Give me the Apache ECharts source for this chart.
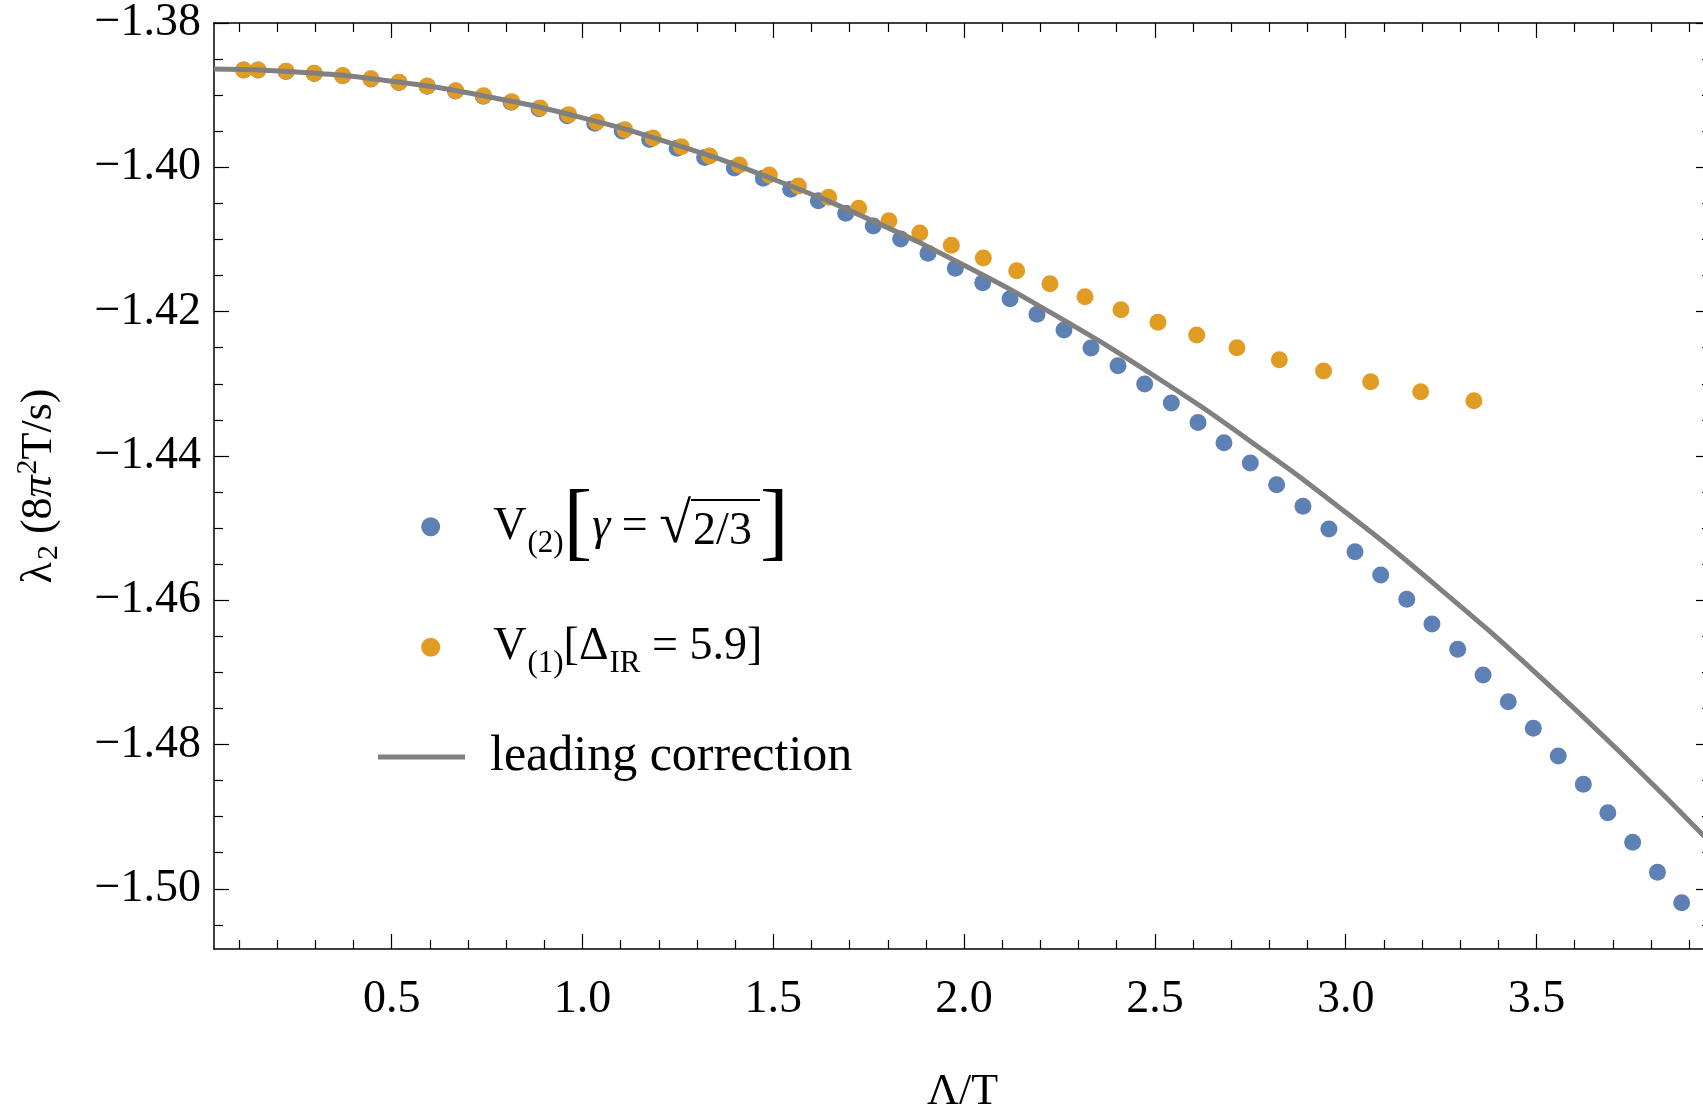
<!DOCTYPE html>
<html>
<head>
<meta charset="utf-8">
<script src="https://cdn.jsdelivr.net/npm/echarts@6/dist/echarts.min.js"></script>
<style>
html, body { margin: 0; padding: 0; background: #fff; }
#chart1 { width: 1703px; height: 1110px; }
</style>
</head>
<body>
<div id="chart1"></div>
<script>
// data
var blueX = [0.112, 0.1496, 0.223, 0.297, 0.3715, 0.4457, 0.519, 0.593, 0.667, 0.740, 0.813, 0.886, 0.960, 1.032, 1.104, 1.176, 1.248, 1.320, 1.398,
    1.4738, 1.5455, 1.618, 1.6897, 1.762, 1.8338, 1.9054, 1.977, 2.0487, 2.1203, 2.191, 2.2618, 2.3325, 2.4033, 2.4733, 2.543, 2.613, 2.681, 2.750,
    2.819, 2.888, 2.956, 3.0244, 3.0917, 3.160, 3.226, 3.2935, 3.360, 3.426, 3.4917, 3.557, 3.6227, 3.687, 3.752, 3.817, 3.8805];
var blueY = [-1.38651, -1.38652, -1.38671, -1.38699, -1.38732, -1.38775, -1.38826, -1.38878, -1.38944, -1.39015, -1.39098, -1.39190, -1.39285, -1.39388, -1.39498, -1.39613, -1.39735, -1.39865, -1.40010,
    -1.40153, -1.40305, -1.40463, -1.40638, -1.40814, -1.40994, -1.41192, -1.41400, -1.41599, -1.41821, -1.42038, -1.42255, -1.42505, -1.42750, -1.43003, -1.43267, -1.43537, -1.43817, -1.44098,
    -1.44399, -1.44699, -1.45013, -1.45328, -1.45651, -1.45988, -1.46330, -1.46681, -1.47037, -1.47407, -1.47776, -1.48159, -1.48552, -1.48945, -1.49356, -1.49771, -1.50193];

var orangeX = [0.112, 0.1496, 0.223, 0.297, 0.3715, 0.4457, 0.519, 0.593, 0.668, 0.741, 0.815, 0.889, 0.964, 1.037, 1.111, 1.185, 1.259, 1.333, 1.411,
    1.4896, 1.5656, 1.645, 1.7238, 1.803, 1.884, 1.9665, 2.0503, 2.1378, 2.225, 2.3168, 2.411, 2.508, 2.6095, 2.715, 2.826, 2.942, 3.0654, 3.1965, 3.336];
var orangeY = [-1.38651, -1.38651, -1.38670, -1.38698, -1.38730, -1.38772, -1.38822, -1.38873, -1.38938, -1.39007, -1.39090, -1.39178, -1.39270, -1.39372, -1.39478, -1.39594, -1.39714, -1.39843, -1.39968,
    -1.40107, -1.40259, -1.40416, -1.40569, -1.40740, -1.40911, -1.41081, -1.41257, -1.41433, -1.41613, -1.41793, -1.41974, -1.42148, -1.42324, -1.42500, -1.42667, -1.42823, -1.42971, -1.43110, -1.43235];

var lineX = [0.034, 0.25, 0.5, 0.75, 1.0, 1.25, 1.5, 1.75, 2.0, 2.25, 2.5, 2.75, 3.0, 3.25, 3.5, 3.75, 3.96];
var lineY = [-1.38638, -1.38679, -1.38806, -1.39018, -1.39315, -1.39697, -1.40165, -1.40718, -1.41358, -1.42084, -1.42896, -1.43796, -1.44782, -1.45856, -1.47017, -1.48266, -1.49384];

var xMajor = [0.5, 1.0, 1.5, 2.0, 2.5, 3.0, 3.5];
var xMinor = [0.1, 0.2, 0.3, 0.4, 0.6, 0.7, 0.8, 0.9, 1.1, 1.2, 1.3, 1.4, 1.6, 1.7, 1.8, 1.9, 2.1, 2.2, 2.3, 2.4,
    2.6, 2.7, 2.8, 2.9, 3.1, 3.2, 3.3, 3.4, 3.6, 3.7, 3.8, 3.9];
var yMajor = [-1.38, -1.40, -1.42, -1.44, -1.46, -1.48, -1.50];
var yMinor = [-1.385, -1.39, -1.395, -1.405, -1.41, -1.415, -1.425, -1.43, -1.435, -1.445, -1.45, -1.455,
    -1.465, -1.47, -1.475, -1.485, -1.49, -1.495, -1.505];

var X_MIN = 0.0343, X_MAX = 3.9573;
var Y_MIN = -1.50834, Y_MAX = -1.38;

var FONT = '"Liberation Serif", "DejaVu Serif", serif';
var BLUE = '#5E81B5', ORANGE = '#E19C24', GRAY = '#808080';

function zip(xs, ys) {
    return xs.map(function (x, i) { return [x, ys[i]]; });
}

// thin bar used as overline of the radical
var barCanvas = document.createElement('canvas');
barCanvas.width = 8;
barCanvas.height = 100;
var bctx = barCanvas.getContext('2d');
bctx.fillStyle = '#000';
bctx.fillRect(0, 0, 8, 4);

var chartDom = document.getElementById('chart1');
var myChart = echarts.init(chartDom);
var option;

var lineSt = {color: '#000', width: 1.5};
var tickSt = {color: '#000', width: 1.2};

function xAx(pos, major, withLabel) {
    return {
        type: 'value', position: pos, min: X_MIN, max: X_MAX,
        axisLine: {show: major, onZero: false, lineStyle: lineSt},
        axisTick: {show: true, inside: true, length: major ? 15 : 9, lineStyle: tickSt,
            customValues: major ? xMajor : xMinor},
        axisLabel: withLabel ? {
            show: true, customValues: xMajor, margin: 28,
            fontFamily: FONT, fontSize: 46, color: '#000',
            formatter: function (v) { return v.toFixed(1); }
        } : {show: false},
        splitLine: {show: false}
    };
}

function yAx(pos, major, withLabel) {
    return {
        type: 'value', position: pos, min: Y_MIN, max: Y_MAX,
        axisLine: {show: major, onZero: false, lineStyle: lineSt},
        axisTick: {show: true, inside: true, length: major ? 15 : 9, lineStyle: tickSt,
            customValues: major ? yMajor : yMinor},
        axisLabel: withLabel ? {
            show: true, customValues: yMajor, margin: 13,
            fontFamily: FONT, fontSize: 46, color: '#000', padding: [10, 0, 0, 0],
            formatter: function (v) { return '\u2212' + Math.abs(v).toFixed(2); }
        } : {show: false},
        splitLine: {show: false}
    };
}

var xAxes = [xAx('bottom', true, true), xAx('bottom', false, false), xAx('top', true, false), xAx('top', false, false)];
xAxes[0].name = '\u039B/T';
xAxes[0].nameLocation = 'middle';
xAxes[0].nameGap = 121;
xAxes[0].nameTextStyle = {fontFamily: FONT, fontSize: 44, color: '#000'};

var yAxes = [yAx('left', true, true), yAx('left', false, false), yAx('right', true, false), yAx('right', false, false)];
yAxes[0].name = '{t|\u03BB}{sub|2}{t| (8}{pi|\u03C0}{sup|2}{t|T/s)}';
yAxes[0].nameLocation = 'middle';
yAxes[0].nameGap = 150;
yAxes[0].nameTextStyle = {
    fontFamily: FONT, fontSize: 44, color: '#000',
    rich: {
        t: {fontFamily: FONT, fontSize: 44, color: '#000', lineHeight: 50},
        pi: {fontFamily: FONT, fontSize: 44, color: '#000', fontStyle: 'italic', lineHeight: 50},
        sub: {fontFamily: FONT, fontSize: 30, color: '#000', lineHeight: 30, padding: [20, 0, 0, 2]},
        sup: {fontFamily: FONT, fontSize: 30, color: '#000', lineHeight: 30, padding: [0, 0, 22, 1]}
    }
};

var richLegend = {
    v: {fontFamily: FONT, fontSize: 46, color: '#000', lineHeight: 70},
    t: {fontFamily: FONT, fontSize: 46, color: '#000', lineHeight: 70},
    lt: {fontFamily: FONT, fontSize: 50, color: '#000', lineHeight: 70},
    it: {fontFamily: FONT, fontSize: 46, color: '#000', fontStyle: 'italic', lineHeight: 70},
    sub: {fontFamily: FONT, fontSize: 31, color: '#000', lineHeight: 30, padding: [34, 0, 0, 1]},
    big: {fontFamily: FONT, fontSize: 86, color: '#000', lineHeight: 70},
    rad: {fontFamily: FONT, fontSize: 58, color: '#000', lineHeight: 70},
    ov: {fontFamily: FONT, fontSize: 46, color: '#000', lineHeight: 50, padding: [10, 8, 0, 2],
        backgroundColor: {image: barCanvas}},
    sp: {width: 20, lineHeight: 70},
    sp2: {width: 48, lineHeight: 70}
};

function legendAt(name, icon, left, top, w, h, fmt) {
    return {
        show: true, orient: 'vertical', left: left, top: top, padding: 0,
        itemWidth: w, itemHeight: h, selectedMode: false,
        data: [{name: name, icon: icon}],
        textStyle: {fontFamily: FONT, fontSize: 46, color: '#000', rich: richLegend},
        formatter: fmt
    };
}

option = {
    animation: false,
    backgroundColor: '#fff',
    grid: {left: 214, top: 23, right: -8, bottom: 161, containLabel: false, outerBoundsMode: 'none'},
    xAxis: xAxes,
    yAxis: yAxes,
    legend: [
        legendAt('V(2)', 'circle', 421.2, 483.7, 19, 19, function () {
            return '{sp2|}{v|V}{sub|(2)}{big|[}{it|\u03B3}{t| = }{rad|\u221A}{ov|2/3}{big|]}';
        }),
        legendAt('V(1)', 'circle', 421.2, 614.7, 19, 19, function () {
            return '{sp2|}{v|V}{sub|(1)}{t|[\u0394}{sub|IR}{t| = 5.9]}';
        }),
        legendAt('leading correction', 'rect', 378, 732, 87, 5, function (n) {
            return '{sp|}{lt|' + n + '}';
        })
    ],
    series: [
        {
            name: 'V(2)', type: 'scatter', data: zip(blueX, blueY),
            symbol: 'circle', symbolSize: 17, itemStyle: {color: BLUE, opacity: 1}, silent: true
        },
        {
            name: 'V(1)', type: 'scatter', data: zip(orangeX, orangeY),
            symbol: 'circle', symbolSize: 17, itemStyle: {color: ORANGE, opacity: 1}, silent: true
        },
        {
            name: 'leading correction', type: 'line', data: zip(lineX, lineY),
            smooth: true, showSymbol: false, symbol: 'none',
            lineStyle: {color: GRAY, width: 5}, itemStyle: {color: GRAY}, silent: true, z: 3
        }
    ]
};

option && myChart.setOption(option);
</script>
</body>
</html>
